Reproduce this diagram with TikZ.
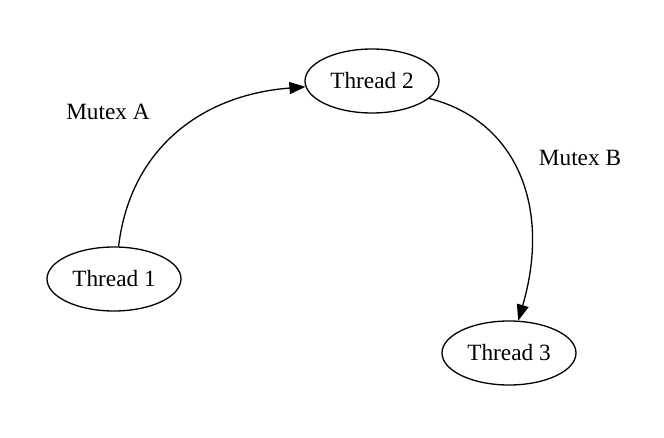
\documentclass[tikz,border=0pt]{standalone}
\usepackage{fontspec}
\setmainfont{Liberation Serif}
\usepackage{tikz}
\usetikzlibrary{arrows.meta,shapes.geometric}

\begin{document}
\begin{tikzpicture}[
  x=1pt,y=-1pt,
  thread/.style={draw,ellipse,line width=1.3pt,inner sep=0pt,
                 minimum width=134pt,minimum height=64pt,
                 font=\fontsize{23.3}{28}\selectfont},
  lbl/.style={font=\fontsize{23.3}{28}\selectfont,inner sep=0pt},
  ar/.style={-{Triangle[length=16pt,width=12pt]},line width=1.3pt},
]
\useasboundingbox (0,0) rectangle (664,438);

\node[thread] (t1) at (114,279) {Thread 1};
\node[thread] (t2) at (372,81) {Thread 2};
\node[thread] (t3) at (509,353) {Thread 3};

\node[lbl] (ma) at (108,112) {Mutex A};
\node[lbl] (mb) at (580,158) {Mutex B};

\draw[ar] (t1.82) .. controls (130,150) and (200,95) .. (t2.185);
\draw[ar] (t2.343) .. controls (515,120) and (552,205) .. (t3.74);
\end{tikzpicture}
\end{document}
